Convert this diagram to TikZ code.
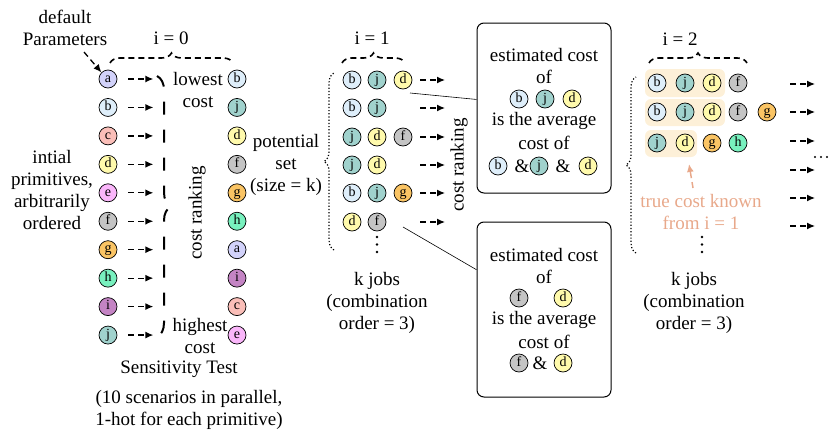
\documentclass[tikz,border=0pt]{standalone}
\usepackage{fontspec}
\setmainfont{Liberation Serif}
\usetikzlibrary{decorations.pathreplacing,arrows.meta,calc}
\definecolor{ca}{RGB}{210,210,250}
\definecolor{cb}{RGB}{222,238,250}
\definecolor{cc}{RGB}{250,190,184}
\definecolor{cd}{RGB}{255,250,172}
\definecolor{ce}{RGB}{250,182,250}
\definecolor{cf}{RGB}{196,196,196}
\definecolor{cg}{RGB}{250,196,100}
\definecolor{ch}{RGB}{120,240,190}
\definecolor{ci}{RGB}{196,132,196}
\definecolor{cj}{RGB}{160,210,205}
\definecolor{hlc}{RGB}{253,240,216}
\definecolor{salmon}{RGB}{232,168,138}
\newcommand\prm[4]{\node[pcs,fill=c#4] (#1) at (#2,#3) {#4};}
\begin{document}
\begin{tikzpicture}[x=1pt,y=-1pt,
  pcs/.style={circle,draw,line width=0.7pt,minimum size=18pt,inner sep=0pt,
    font=\fontsize{14}{14}\selectfont,text height=9pt,text depth=2.5pt},
  txt/.style={font=\fontsize{19}{22}\selectfont,align=center,inner sep=0pt},
  darr/.style={line width=1.3pt,dash pattern=on 6pt off 4pt,-{Latex[length=8pt,width=7pt]}},
  tbrace/.style={decorate,decoration={brace,amplitude=10pt},dash pattern=on 6pt off 4pt,line width=1.6pt},
  dbrace/.style={decorate,decoration={brace,amplitude=10pt},dotted,line width=1.2pt},
  bigbrace/.style={decorate,decoration={brace,amplitude=14pt},dash pattern=on 13pt off 15pt,line width=2pt},
  box/.style={draw,line width=1pt,rounded corners=7pt,minimum width=134pt,inner sep=0pt}
]
\useasboundingbox (0,0) rectangle (829,431);

% ---------- i = 0 ----------
\node[txt] (defp) at (65,28) {default\\Parameters};
\node[txt] (init) at (52,190) {intial\\primitives,\\arbitrarily\\ordered};
\node[txt] (i0) at (171,38) {i = 0};
\draw[tbrace] (110,63) -- (233,63);
\foreach \l [count=\k from 0] in {a,b,c,d,e,f,g,h,i,j}{
  \node[pcs,fill=c\l] (L\l) at (108,79+28.45*\k) {\l};
  \draw[darr] ([xshift=11pt]L\l.east) -- ++(25,0);
}
\foreach \l [count=\k from 0] in {b,j,d,f,g,h,a,i,c,e}{
  \node[pcs,fill=c\l] (R\l) at (237,79+28.45*\k) {\l};
}
\coordinate (dpa) at (84,52);
\draw[darr] (dpa) -- (La.north west);
\draw[bigbrace] (157,76) -- (157,337);
\node[txt,rotate=90] (cr0) at (197,213) {cost ranking};
\node[txt] (low) at (198,90) {lowest\\cost};
\node[txt] (high) at (200,336) {highest\\cost};
\node[txt] (sens) at (179,369) {Sensitivity Test};
\node[txt] (scen) at (189,410) {(10 scenarios in parallel,\\1-hot for each primitive)};
\node[txt] (pot) at (286,165) {potential\\set\\(size = k)};

% ---------- i = 1 ----------
\node[txt] (i1) at (372,38) {i = 1};
\draw[tbrace] (342,63) -- (405,63);
\draw[dbrace] (334,250) -- (334,73);
\prm{p11}{352}{80}{b}\prm{p12}{377}{80}{j}\prm{p13}{403}{80}{d}
\prm{p21}{352}{108}{b}\prm{p22}{377}{108}{j}
\prm{p31}{352}{137}{j}\prm{p32}{377}{137}{d}\prm{p33}{403}{137}{f}
\prm{p41}{352}{165}{j}\prm{p42}{377}{165}{d}
\prm{p51}{352}{193}{b}\prm{p52}{377}{193}{j}\prm{p53}{403}{193}{g}
\prm{p61}{352}{222}{d}\prm{p62}{377}{222}{f}
\foreach \yy in {80,108,137,165,193,222}{
  \coordinate (a1s) at (420,\yy);
  \draw[darr] (a1s) -- ++(25,0);
}
\foreach \yy in {237,244.5,252} \fill (377,\yy) circle (1.4pt);
\node[txt,rotate=90] (cr1) at (459,165) {cost ranking};
\node[txt] (kj1) at (377,303) {k jobs\\(combination\\order = 3)};

% ---------- boxes ----------
\node[box,minimum height=170pt] (b1) at (544,108) {};
\node[txt] at (544,55) {estimated cost};
\node[txt] at (544,77) {of};
\prm{q1}{519}{99}{b}\prm{q2}{545}{99}{j}\prm{q3}{572}{99}{d}
\node[txt] at (544,121) {is the average};
\node[txt] at (544,143) {cost of};
\prm{q4}{498}{166}{b}\node[txt] at (522,166) {\&};
\prm{q5}{539}{166}{j}\node[txt] at (563,166) {\&};
\prm{q6}{588}{166}{d}

\node[box,minimum height=175pt] (b2) at (544,309.5) {};
\node[txt] at (544,255) {estimated cost};
\node[txt] at (544,277) {of};
\prm{s1}{519}{298}{f}\prm{s2}{563}{298}{d}
\node[txt] at (544,320) {is the average};
\node[txt] at (544,342) {cost of};
\prm{s3}{519}{363}{f}\node[txt] at (540,363) {\&};
\prm{s4}{563}{363}{d}

\coordinate (l1s) at (410,93);
\coordinate (l2s) at (403,227);
\draw[line width=0.6pt] (l1s) -- ($(b1.north west)!0.45!(b1.south west)$);
\draw[line width=0.6pt] (l2s) -- ($(b2.north west)!0.274!(b2.south west)$);

% ---------- i = 2 ----------
\node[txt] (i2) at (680,39) {i = 2};
\draw[tbrace] (649,63) -- (747,63);
\draw[dbrace] (636,253) -- (636,77);
\fill[hlc,rounded corners=6pt] (645,69) rectangle (725,97);
\fill[hlc,rounded corners=6pt] (645,99) rectangle (725,126);
\fill[hlc,rounded corners=6pt] (645,130) rectangle (697,157);
\prm{t11}{657}{83}{b}\prm{t12}{685}{83}{j}\prm{t13}{712}{83}{d}\prm{t14}{738}{83}{f}
\prm{t21}{657}{112}{b}\prm{t22}{685}{112}{j}\prm{t23}{712}{112}{d}\prm{t24}{738}{112}{f}\prm{t25}{767}{112}{g}
\prm{t31}{657}{143}{j}\prm{t32}{685}{143}{d}\prm{t33}{712}{143}{g}\prm{t34}{738}{143}{h}
\foreach \yy in {84,112,141,170,198,226}{
  \coordinate (a2s) at (790,\yy);
  \draw[darr] (a2s) -- ++(25,0);
}
\foreach \xx in {815,821,827} \fill (\xx,157) circle (1.2pt);
\node[txt,text=salmon] (tck) at (701,212) {true cost known\\from i = 1};
\coordinate (oa) at (693,188);
\draw[darr,salmon,line width=1.5pt] (oa) -- (689,164);
\foreach \yy in {237,244.5,252} \fill (702,\yy) circle (1.4pt);
\node[txt] (kj2) at (694,303) {k jobs\\(combination\\order = 3)};
\end{tikzpicture}
\end{document}
